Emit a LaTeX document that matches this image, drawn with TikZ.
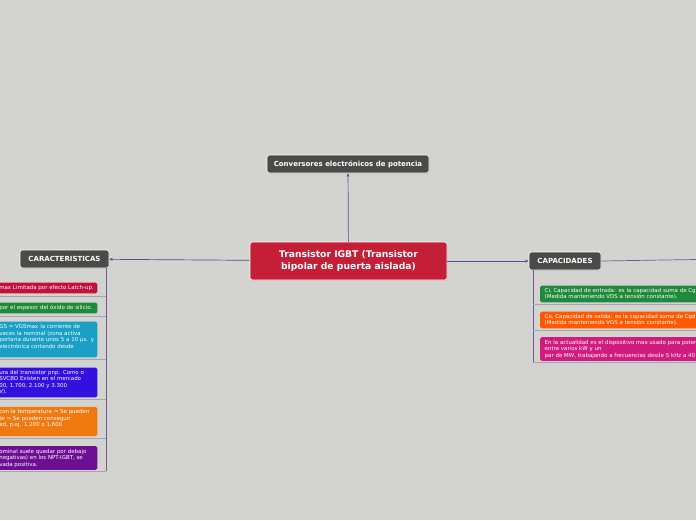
\documentclass[tikz,border=0pt]{standalone}
\usepackage{fontspec}
\setmainfont{DejaVu Sans}
\usetikzlibrary{arrows.meta,shadows}

\definecolor{fondo}{HTML}{D3D4D0}
\definecolor{oscuro}{HTML}{4A4A48}
\definecolor{central}{HTML}{C41F36}
\definecolor{enlace}{HTML}{6A4690}
\definecolor{gris}{HTML}{A7A2B3}
\definecolor{rojo}{HTML}{C2123C}
\definecolor{verde}{HTML}{1E8A3A}
\definecolor{turquesa}{HTML}{1AA0C4}
\definecolor{azul}{HTML}{3410E0}
\definecolor{naranja}{HTML}{F07A10}
\definecolor{morado}{HTML}{6C0F92}
\definecolor{naranjaR}{HTML}{FF5A00}
\definecolor{magenta}{HTML}{D01C7E}

\tikzset{
  tema/.style={fill=oscuro, draw=white, line width=0.6pt, rounded corners=2.5pt,
    text=white, font=\fontsize{7}{8.5}\selectfont\bfseries,
    drop shadow={shadow xshift=0.6pt, shadow yshift=-0.9pt, opacity=0.3}},
  hoja/.style={text=white, align=left, inner ysep=2.7pt,
    rounded corners=1.5pt, font=\fontsize{5.45}{6.5}\selectfont},
  hojaI/.style={hoja, text width=97pt, inner xsep=1pt, anchor=east},
  hojaD/.style={hoja, text width=220pt, anchor=west, inner xsep=4.5pt},
  flecha/.style={->, draw=enlace, line width=0.7pt},
  tronco/.style={draw=enlace!80!gris, line width=0.7pt},
  bajo/.style={draw=gris, line width=0.7pt}
}

\begin{document}
\begin{tikzpicture}[x=1pt, y=-1pt, >={Stealth[length=3.5pt,width=3pt]}]
    % fondo
    \path[use as bounding box, fill=fondo] (0,0) rectangle (696,520);
    \clip (0,0) rectangle (696,520);

    % tema central
    \node[tema, fill=central, minimum width=197pt, minimum height=38pt,
          font=\fontsize{9.2}{12}\selectfont\bfseries, align=center]
          (igbt) at (348.5,261) {Transistor IGBT (Transistor\\bipolar de puerta aislada)};

    % ramas principales
    \node[tema, minimum width=162pt, minimum height=18pt] (conv) at (348,164)
          {Conversores electrónicos de potencia};
    \node[tema, minimum width=89pt, minimum height=18pt] (carac) at (64.5,259)
          {CARACTERISTICAS};
    \node[tema, minimum width=72pt, minimum height=18pt] (capac) at (565,261)
          {CAPACIDADES};

    % flechas
    \draw[flecha] (igbt) -- (conv);
    \draw[flecha] (igbt) -- (carac);
    \draw[flecha] (igbt) -- (capac);
    \coordinate (fuera) at (696,259.5);
    \draw[tronco] (capac.east) -- (fuera);

    % hojas de CARACTERISTICAS
    \node[hojaI, fill=rojo] (c1) at (97.5,288) {max Limitada por efecto Latch-up.};
    \node[hojaI, fill=verde] (c2) at (97.5,308) {por el espesor del óxido de silicio.};
    \node[hojaI, fill=turquesa] (c3) at (97.5,339.5)
          {GS = VGSmax la corriente de\\veces la nominal (zona activa\\portaria durante unos 5 a 10 µs. y\\electrónica cortando desde\\\mbox{}};
    \node[hojaI, fill=azul] (c4) at (97.5,382.5)
          {ura del transistor pnp. Como o\\SVCBO Existen en el mercado\\00, 1.700, 2.100 y 3.300\\V).};
    \node[hojaI, fill=naranja] (c5) at (97.5,421.5)
          {con la temperatura ⇒ Se pueden\\te ⇒ Se pueden conseguir\\ad, p.ej. 1.200 o 1.600\\\mbox{}};
    \node[hojaI, fill=morado] (c6) at (97.5,458)
          {ominal suele quedar por debajo\\negativas) en los NPT-IGBT, se\\vada positiva.};

    % tronco izquierdo
    \coordinate (troncoI) at (106,471);
    \draw[tronco] (carac.south -| troncoI) -- (troncoI);
    \draw[bajo] ([yshift=-2.5pt]c1.south west) -- ([yshift=-2.5pt]c1.south -| troncoI);
    \draw[bajo] ([yshift=-2.5pt]c2.south west) -- ([yshift=-2.5pt]c2.south -| troncoI);
    \draw[bajo] ([yshift=-2pt]c3.south west) -- ([yshift=-2pt]c3.south -| troncoI);
    \draw[bajo] ([yshift=-2pt]c4.south west) -- ([yshift=-2pt]c4.south -| troncoI);
    \draw[bajo] ([yshift=-2pt]c5.south west) -- ([yshift=-2pt]c5.south -| troncoI);
    \draw[bajo] ([yshift=-1pt]c6.south west) -- ([yshift=-1pt]c6.south -| troncoI);

    % hojas de CAPACIDADES
    \node[hojaD, fill=verde] (p1) at (540,294)
          {Ci, Capacidad de entrada: es la capacidad suma de Cg\\(Medida manteniendo VDS a tensión constante).};
    \node[hojaD, fill=naranjaR] (p2) at (540,320)
          {Co, Capacidad de salida: es la capacidad suma de Cgd\\(Medida manteniendo VGS a tensión constante).};
    \node[hojaD, fill=magenta] (p3) at (540,349)
          {En la actualidad es el dispositivo mas usado para poten\\entre varios kW y un\\par de MW, trabajando a frecuencias desde 5 kHz a 40};

    % tronco derecho
    \coordinate (troncoD) at (533,362);
    \draw[tronco] (capac.south -| troncoD) -- (troncoD);
    \draw[bajo] ([yshift=-2pt]p1.south -| troncoD) -- ([yshift=-2pt]p1.south east);
    \draw[bajo] ([yshift=-2pt]p2.south -| troncoD) -- ([yshift=-2pt]p2.south east);
    \draw[bajo] ([yshift=-1pt]p3.south -| troncoD) -- ([yshift=-1pt]p3.south east);
\end{tikzpicture}
\end{document}
